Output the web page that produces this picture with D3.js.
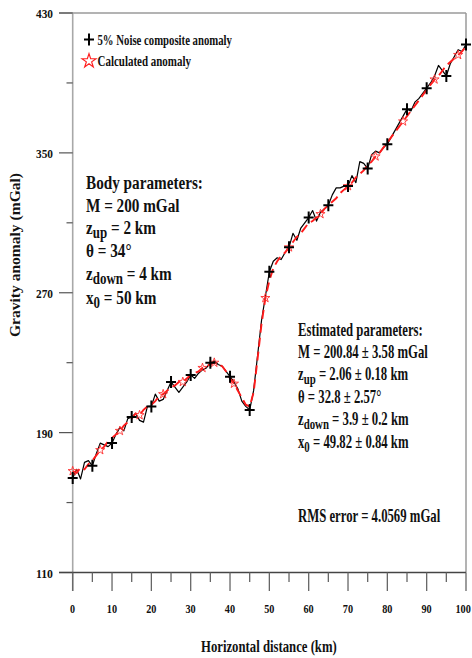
<!DOCTYPE html>
<html>
<head>
<meta charset="utf-8">
<script src="https://cdn.jsdelivr.net/npm/d3@7"></script>
<style>
  html, body { margin: 0; padding: 0; background: #fff; }
  svg { display: block; }
  text { font-family: "Liberation Serif", "Times New Roman", serif; font-weight: bold; fill: #111; }
</style>
</head>
<body>
<svg id="chart" width="472" height="658"></svg>
<script>
// Profile positions (km), one sample per kilometre
const distance = d3.range(0, 101);

// Noisy composite anomaly (mGal), 5% noise
const noisyAnomaly = [
  164, 169, 163.5, 173, 174, 171, 178, 184, 183, 182,
  184, 189, 193, 191, 198, 199, 201, 197, 196, 205,
  205, 212, 208, 209, 214, 219, 216, 213, 216, 219,
  223, 221, 224, 226, 227, 230, 231, 229, 228, 225,
  222, 219, 215, 208, 205, 203, 214, 234, 254, 268,
  282, 288, 290, 289, 293, 296, 304, 300, 307, 310,
  313, 317, 311, 316, 318, 320, 326, 330, 330, 331,
  331, 337, 333, 345, 344, 341, 349, 351, 350, 353,
  355, 359, 363, 367, 371, 375, 374, 379, 381, 384,
  387, 390, 394, 400, 397, 394, 401, 405, 409, 408,
  412
];

// Calculated anomaly from the inverted model (mGal)
const calculatedAnomaly = [
  168, 167, 170, 169, 172, 174, 177, 180, 182, 185,
  187, 189, 191, 194, 196, 198, 201, 200, 203, 205,
  206, 208, 211, 212, 214, 216, 217, 219, 219, 221,
  223, 224, 225, 227, 228, 229, 230, 229, 228, 225,
  221, 218, 214, 210, 206, 205, 213, 232, 252, 267,
  277, 284, 288, 291, 293, 296, 299, 302, 304, 307,
  310, 311, 313, 315, 318, 320, 322, 324, 327, 329,
  331, 333, 336, 338, 340, 343, 345, 348, 350, 353,
  356, 359, 362, 365, 368, 371, 374, 377, 380, 383,
  386, 389, 392, 394, 397, 400, 402, 404, 406, 408,
  411
];

// Which samples carry a marker
const plusMarkerAt = d3.range(0, 101, 5);
const starMarkerAt = [0, 7, 12, 17, 23, 28, 33, 36, 41, 49, 55, 63, 70, 77, 84, 92, 98];

// Axis ticks
const xMajorTicks = d3.range(0, 101, 10);
const xMinorTicks = d3.range(5, 100, 10);
const yMajorTicks = [110, 190, 270, 350, 430];
const yMinorTicks = [150, 230, 310, 390];

// Legend and annotation text
const legendLabels = ["5% Noise composite anomaly", "Calculated anomaly"];
const bodyParams = [
  [["Body parameters:"]],
  [["M = 200 mGal"]],
  [["z"], ["up", "sub"], [" = 2 km"]],
  [["θ = 34°"]],
  [["z"], ["down", "sub"], [" = 4 km"]],
  [["x"], ["0", "sub"], [" = 50 km"]]
];
const estimatedParams = [
  [["Estimated parameters:"]],
  [["M = 200.84 ± 3.58 mGal"]],
  [["z"], ["up", "sub"], [" = 2.06 ± 0.18 km"]],
  [["θ = 32.8 ± 2.57°"]],
  [["z"], ["down", "sub"], [" = 3.9 ± 0.2 km"]],
  [["x"], ["0", "sub"], [" = 49.82 ± 0.84 km"]]
];
const rmsLabel = "RMS error = 4.0569 mGal";
const xTitle = "Horizontal distance (km)";
const yTitle = "Gravity anomaly (mGal)";

const svg = d3.select("#chart");

const x = d3.scaleLinear().domain([0, 100]).range([72.7, 466]);
const y = d3.scaleLinear().domain([110, 430]).range([572.5, 13]);

// Writes a line of text (with optional subscripts) at a baseline.
function writeLine(parent, parts, size) {
  const g = parent.append("g");
  const t = g.append("text").attr("font-size", size);
  let shifted = false;
  parts.forEach(p => {
    const span = t.append("tspan").text(p[0]);
    if (p[1] === "sub") {
      span.attr("font-size", size * 0.85).attr("dy", size * 0.22);
      shifted = true;
    } else if (shifted) {
      span.attr("dy", -size * 0.22);
      shifted = false;
    }
  });
  return g;
}

// Squeezes a line horizontally so it spans the given width.
function fitText(parent, px, py, parts, size, width, anchor) {
  const g = writeLine(parent, parts, size);
  const w = g.node().getBBox().width;
  const s = width / w;
  let ox = px;
  if (anchor === "end") ox = px - width;
  if (anchor === "middle") ox = px - width / 2;
  g.attr("transform", `translate(${ox},${py}) scale(${s},1)`);
  return s;
}

// Writes a block of lines sharing one horizontal squeeze factor.
function textBlock(parent, px, baselines, lines, size, scale) {
  lines.forEach((p, i) => {
    writeLine(parent, p, size).attr("transform", `translate(${px},${baselines[i]}) scale(${scale},1)`);
  });
}

// Frame: top and right edges
svg.append("line").attr("x1", 59).attr("x2", 466).attr("y1", y(430)).attr("y2", y(430))
  .attr("stroke", "#9a9a9a").attr("stroke-width", 1.5);
svg.append("line").attr("x1", 466).attr("x2", 466).attr("y1", y(430)).attr("y2", y(110))
  .attr("stroke", "#9a9a9a").attr("stroke-width", 1.5);

// Left axis
svg.append("line").attr("x1", 72.7).attr("x2", 72.7).attr("y1", y(430)).attr("y2", 591)
  .attr("stroke", "#a8a8a8").attr("stroke-width", 1.6);
svg.append("g").selectAll("line").data(yMajorTicks).join("line")
  .attr("x1", 59).attr("x2", 72.7).attr("y1", d => y(d)).attr("y2", d => y(d))
  .attr("stroke", "#555").attr("stroke-width", 1.2);
svg.append("g").selectAll("line").data(yMinorTicks).join("line")
  .attr("x1", 66.5).attr("x2", 72.7).attr("y1", d => y(d)).attr("y2", d => y(d))
  .attr("stroke", "#555").attr("stroke-width", 1.2);
yMajorTicks.forEach(v => fitText(svg, 53, y(v) + 5, [[String(v)]], 13, 17, "end"));

// Bottom axis
svg.append("line").attr("x1", 59).attr("x2", 466).attr("y1", y(110)).attr("y2", y(110))
  .attr("stroke", "#444").attr("stroke-width", 1.3);
svg.append("g").selectAll("line").data(xMajorTicks).join("line")
  .attr("x1", d => x(d)).attr("x2", d => x(d)).attr("y1", y(110)).attr("y2", 591)
  .attr("stroke", "#666").attr("stroke-width", 1.3);
svg.append("g").selectAll("line").data(xMinorTicks).join("line")
  .attr("x1", d => x(d)).attr("x2", d => x(d)).attr("y1", y(110)).attr("y2", 582)
  .attr("stroke", "#666").attr("stroke-width", 1.3);
xMajorTicks.forEach(v => {
  const s = String(v);
  const w = s.length * 5.2;
  if (x(v) + w / 2 > 471) fitText(svg, 471, 613, [[s]], 13.5, w, "end");
  else fitText(svg, x(v), 613, [[s]], 13.5, w, "middle");
});

// Axis titles
fitText(svg, 269, 652, [[xTitle]], 17.5, 136, "middle");
const yt = svg.append("g").attr("transform", "translate(20,255) rotate(-90)");
yt.append("text").attr("font-size", 14).attr("text-anchor", "middle")
  .attr("textLength", 164).attr("lengthAdjust", "spacingAndGlyphs").text(yTitle);

// Curves
const line = d3.line().x((d, i) => x(distance[i])).y(d => y(d));
svg.append("path").datum(noisyAnomaly).attr("d", line)
  .attr("fill", "none").attr("stroke", "#000").attr("stroke-width", 1.2)
  .attr("stroke-linejoin", "round");
svg.append("path").datum(calculatedAnomaly).attr("d", line)
  .attr("fill", "none").attr("stroke", "#ff1a1a").attr("stroke-width", 1.9)
  .attr("stroke-dasharray", "9,5");

// Markers
const plusPath = "M-5,0H5M0,-6V6";
const starPath = d3.symbol(d3.symbolStar, 26)();
svg.append("g").selectAll("path").data(starMarkerAt).join("path")
  .attr("d", starPath)
  .attr("transform", d => `translate(${x(d)},${y(calculatedAnomaly[d])})`)
  .attr("fill", "none").attr("stroke", "#ff3030").attr("stroke-width", 0.9);
svg.append("g").selectAll("path").data(plusMarkerAt).join("path")
  .attr("d", plusPath)
  .attr("transform", d => `translate(${x(d)},${y(noisyAnomaly[d])})`)
  .attr("fill", "none").attr("stroke", "#000").attr("stroke-width", 2);

// Legend
svg.append("path").attr("d", plusPath).attr("transform", "translate(89,39.5)")
  .attr("fill", "none").attr("stroke", "#000").attr("stroke-width", 2);
svg.append("path").attr("d", d3.symbol(d3.symbolStar, 60)()).attr("transform", "translate(89,61)")
  .attr("fill", "none").attr("stroke", "#ff2020").attr("stroke-width", 1.2);
fitText(svg, 97.5, 44.5, [[legendLabels[0]]], 15, 135);
fitText(svg, 97.5, 65.5, [[legendLabels[1]]], 15, 94);

// True body parameters
const bodyBase = [189, 212, 234, 257, 280, 304];
const bodyScale = fitText(svg, 86, bodyBase[0], bodyParams[0], 18.5, 117);
textBlock(svg, 86, bodyBase.slice(1), bodyParams.slice(1), 18.5, bodyScale);

// Estimated parameters
const estBase = [336, 358, 380, 403, 425, 448];
const estScale = fitText(svg, 298, estBase[1], estimatedParams[1], 18, 130);
textBlock(svg, 298, [estBase[0]].concat(estBase.slice(2)), [estimatedParams[0]].concat(estimatedParams.slice(2)), 18, estScale);
textBlock(svg, 298, [522], [[[rmsLabel]]], 18, estScale);
</script>
</body>
</html>
